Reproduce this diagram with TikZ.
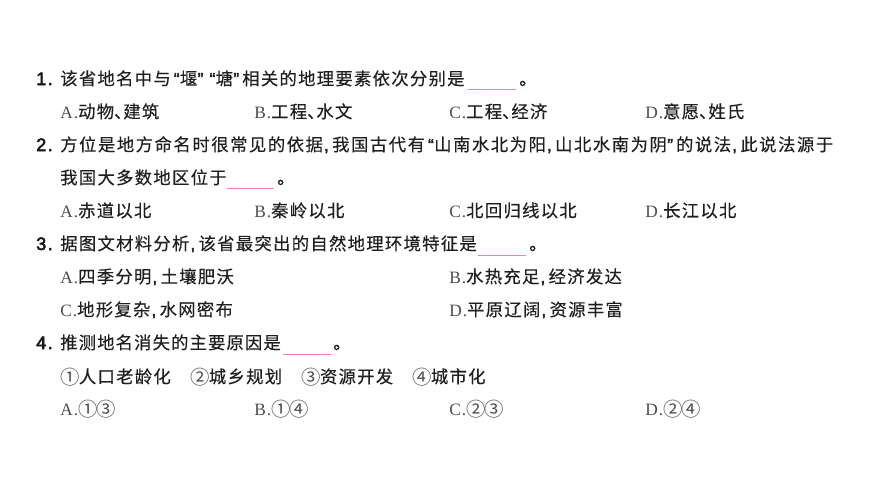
\documentclass[tikz,border=0pt]{standalone}
\usepackage{fontspec}
\setmainfont{Liberation Serif}
\newfontfamily\cjk{Noto Sans CJK SC}[LetterSpace=7.5,FakeBold=0.25]
\newfontfamily\cjkwide{Noto Sans CJK SC}[LetterSpace=8.9,FakeBold=0.25]
\newfontfamily\cjknarrow{Noto Sans CJK SC}[LetterSpace=6.6,FakeBold=0.25]
\newfontfamily\lat{Liberation Serif}[LetterSpace=6]
\newfontfamily\numf{Liberation Sans}[FakeBold=3,LetterSpace=8]
\newfontfamily\hw{Liberation Sans}[FakeBold=2]
\newfontfamily\circf{Noto Sans CJK SC}
\definecolor{blankc}{HTML}{F27CC0}
\tikzset{
  line/.style={anchor=base west,inner sep=0pt,font=\fontsize{13pt}{14pt}\cjk,text=black!88},
  linewide/.style={line,font=\fontsize{13pt}{14pt}\cjkwide},
  linenarrow/.style={line,font=\fontsize{13pt}{14pt}\cjknarrow},
  num/.style={anchor=base west,inner sep=0pt,font=\fontsize{13.5pt}{14pt}\numf,text=black!90},
  blank/.style={draw=blankc,line width=0.75pt}
}
\newcommand{\A}[1]{{\lat\fontsize{13pt}{14pt}\selectfont\color{black!70}#1}}
\newcommand{\Cm}{\makebox[6.9pt][l]{\hspace{0.8pt}\hw ,}}
\newcommand{\Lq}{\makebox[6.9pt][r]{\hw “\hspace{0.3pt}}}
\newcommand{\Rq}{\makebox[6.9pt][l]{\hspace{0.3pt}\hw ”}}
\newcommand{\Dn}{\makebox[6.9pt][l]{、}}
\newcommand{\Ci}[1]{\makebox[14pt][l]{\raisebox{-1pt}{\circf\fontsize{14.5pt}{15pt}\selectfont\color{black!70}#1}}}
\begin{document}
\begin{tikzpicture}[x=0.75pt,y=-0.75pt]
\useasboundingbox[fill=white] (0,0) rectangle (870,489);
\node[num] (n1) at (36,85) {1.};
\node[line] (l1) at (60,85) {该省地名中与\Lq 堰\Rq\Lq 塘\Rq 相关的地理要素依次分别是};
\coordinate (b1a) at (468,89.5); \coordinate (b1b) at (516,89.5);
\draw[blank] (b1a) -- (b1b);
\node[line] (l1e) at (519,85) {。};
\node[line] (a1) at (60,118) {\A{A.}动物\Dn 建筑};
\node[line] (b1) at (254,118) {\A{B.}工程\Dn 水文};
\node[line] (c1) at (449,118) {\A{C.}工程\Dn 经济};
\node[line] (d1) at (645,118) {\A{D.}意愿\Dn 姓氏};
\node[num] (n2) at (36,151) {2.};
\node[linewide] (l2) at (60,151) {方位是地方命名时很常见的依据\Cm 我国古代有\Lq 山南水北为阳\Cm 山北水南为阴\Rq 的说法\Cm 此说法源于};
\node[line] (l2b) at (60,184) {我国大多数地区位于};
\coordinate (b2a) at (227,188.5); \coordinate (b2b) at (274,188.5);
\draw[blank] (b2a) -- (b2b);
\node[line] (l2e) at (277,184) {。};
\node[line] (a2) at (60,217) {\A{A.}赤道以北};
\node[line] (b2) at (254,217) {\A{B.}秦岭以北};
\node[line] (c2) at (449,217) {\A{C.}北回归线以北};
\node[line] (d2) at (645,217) {\A{D.}长江以北};
\node[num] (n3) at (36,250) {3.};
\node[line] (l3) at (60,250) {据图文材料分析\Cm 该省最突出的自然地理环境特征是};
\coordinate (b3a) at (478,255.5); \coordinate (b3b) at (526,255.5);
\draw[blank] (b3a) -- (b3b);
\node[line] (l3e) at (529,250) {。};
\node[line] (a3) at (60,283) {\A{A.}四季分明\Cm 土壤肥沃};
\node[line] (b3) at (449,283) {\A{B.}水热充足\Cm 经济发达};
\node[line] (c3) at (60,316) {\A{C.}地形复杂\Cm 水网密布};
\node[line] (d3) at (449,316) {\A{D.}平原辽阔\Cm 资源丰富};
\node[num] (n4) at (36,349) {4.};
\node[linenarrow] (l4) at (60,349) {推测地名消失的主要原因是};
\coordinate (b4a) at (283,354.5); \coordinate (b4b) at (331,354.5);
\draw[blank] (b4a) -- (b4b);
\node[line] (l4e) at (333,349) {。};
\node[line] (o1) at (60,383) {\Ci{①}人口老龄化};
\node[line] (o2) at (190,383) {\Ci{②}城乡规划};
\node[line] (o3) at (301,383) {\Ci{③}资源开发};
\node[line] (o4) at (412,383) {\Ci{④}城市化};
\node[line] (a4) at (60,415) {\A{A.}\Ci{①}\Ci{③}};
\node[line] (b4) at (254,415) {\A{B.}\Ci{①}\Ci{④}};
\node[line] (c4) at (449,415) {\A{C.}\Ci{②}\Ci{③}};
\node[line] (d4) at (645,415) {\A{D.}\Ci{②}\Ci{④}};
\end{tikzpicture}
\end{document}
